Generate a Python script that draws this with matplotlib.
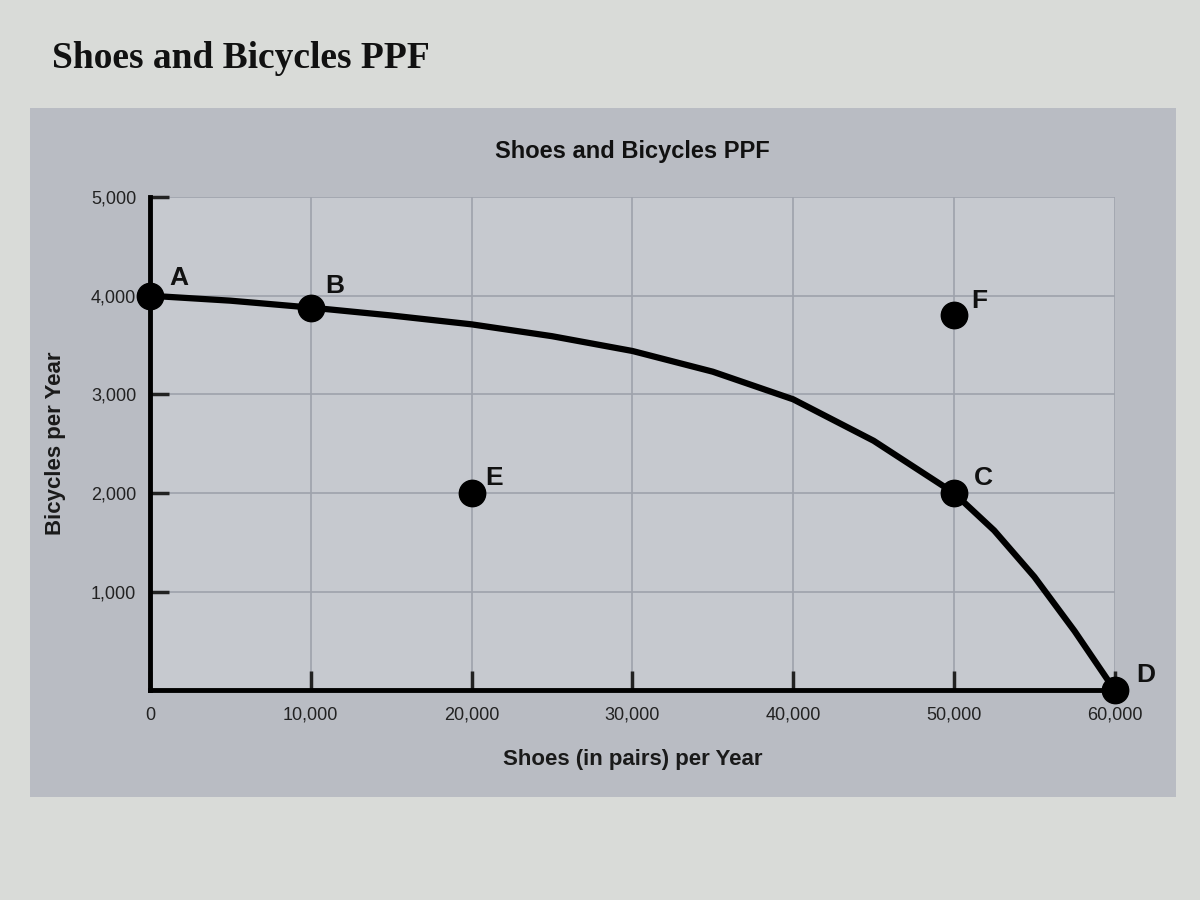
import matplotlib.pyplot as plt
from matplotlib.patches import Rectangle

# points on the PPF
curve_x = [0, 5000, 10000, 15000, 20000, 25000, 30000, 35000, 40000,
           45000, 50000, 52500, 55000, 57500, 60000]
curve_y = [4000, 3950, 3880, 3800, 3710, 3590, 3440, 3230, 2950,
           2530, 2000, 1620, 1150, 600, 0]

labels = ["A", "B", "C", "D", "E", "F"]
pt_x = [0, 10000, 50000, 60000, 20000, 50000]
pt_y = [4000, 3880, 2000, 0, 2000, 3800]

xticks = [0, 10000, 20000, 30000, 40000, 50000, 60000]
yticks = [1000, 2000, 3000, 4000, 5000]

narrow = ["Liberation Sans Narrow", "Liberation Sans", "DejaVu Sans"]

fig = plt.figure(figsize=(12, 9), dpi=100)
fig.patch.set_facecolor("#d9dbd8")
# grey panel behind the chart
panel = Rectangle((0.025, 0.115), 0.955, 0.765, transform=fig.transFigure,
                  facecolor="#b9bcc3", edgecolor="none", zorder=-5)
fig.add_artist(panel)

fig.text(0.043, 0.935, "Shoes and Bicycles PPF", family="Liberation Serif",
         fontweight="bold", fontsize=27, color="#111111", va="center")

ax = fig.add_axes([0.125, 0.233, 0.804, 0.548])
ax.set_zorder(2)
ax.set_facecolor("#c6c9cf")
ax.plot(curve_x, curve_y, color="black", lw=4.5, solid_capstyle="round",
        solid_joinstyle="round", zorder=3, clip_on=False)
ax.plot(pt_x, pt_y, "o", color="black", ms=19, zorder=4, clip_on=False)

offs = {"A": (1800, 180), "B": (1500, 220), "C": (1800, 150), "D": (1900, 160),
        "E": (1400, 150), "F": (1600, 150)}
for lab, x, y in zip(labels, pt_x, pt_y):
    dx, dy = offs[lab]
    ax.text(x + dx, y + dy, lab, fontsize=19, fontweight="bold", family=narrow,
            ha="center", va="center", color="#111111", zorder=5)

ax.set_xlim(0, 60000)
ax.set_ylim(0, 5000)
ax.set_xticks(xticks)
ax.set_yticks(yticks)
ax.set_xticklabels([f"{v:,}" for v in xticks], family=narrow, fontsize=13, color="#222222")
ax.set_yticklabels([f"{v:,}" for v in yticks], family=narrow, fontsize=13, color="#222222")
ax.tick_params(axis="both", direction="in", length=14, width=2.5, color="#222222")
ax.tick_params(axis="x", pad=12)
ax.tick_params(axis="y", pad=10)
ax.grid(True, color="#9ea2ab", lw=1.2, zorder=1)
ax.set_axisbelow(True)
for s in ["top", "right"]:
    ax.spines[s].set_visible(False)
for s in ["left", "bottom"]:
    ax.spines[s].set_linewidth(3.5)

ax.set_title("Shoes and Bicycles PPF", family=narrow, fontweight="bold", fontsize=17,
             color="#111111", pad=28)
ax.set_xlabel("Shoes (in pairs) per Year", family=narrow, fontweight="bold",
              fontsize=16, color="#1a1a1a", labelpad=18)
ax.set_ylabel("Bicycles per Year", family=narrow, fontweight="bold",
              fontsize=16, color="#1a1a1a", labelpad=18)

fig.savefig("out.png", dpi=100, facecolor=fig.get_facecolor())
